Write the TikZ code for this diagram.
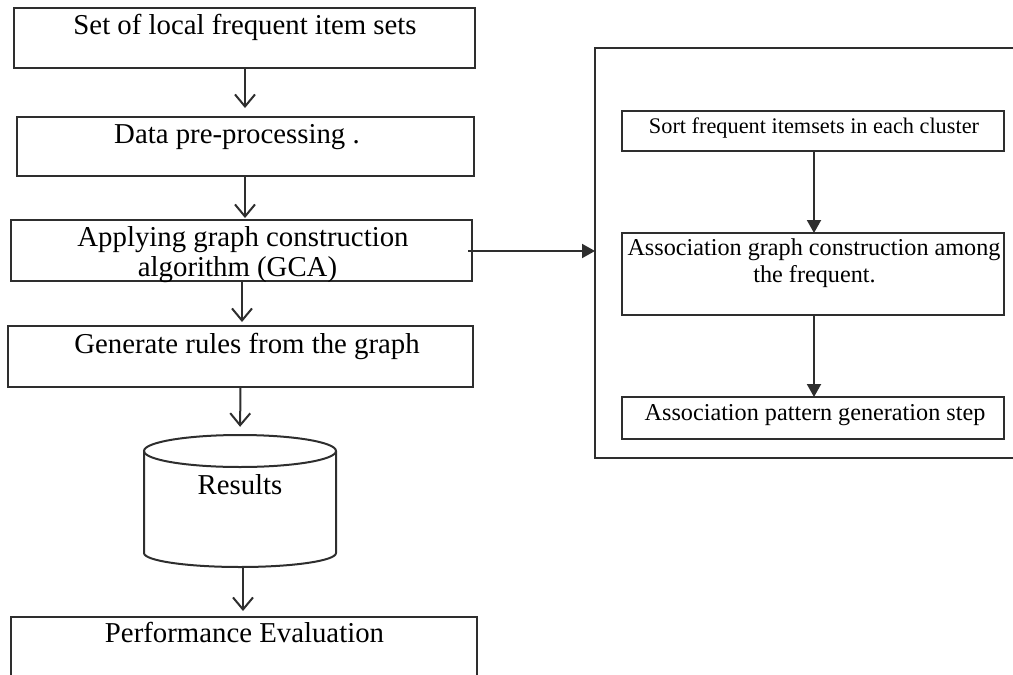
\documentclass[tikz,border=0pt]{standalone}
\usepackage{fontspec}
\setmainfont{Liberation Serif}
\usetikzlibrary{arrows.meta}
\definecolor{ln}{HTML}{2E2E2E}
\begin{document}
\begin{tikzpicture}[x=1pt,y=-1pt,
  box/.style={draw=ln,line width=2pt,inner sep=0pt,outer sep=0pt},
  lab/.style={anchor=base,font=\fontsize{28.8}{30}\selectfont,inner sep=0pt},
  slab/.style={anchor=base,font=\fontsize{24.2}{27}\selectfont,inner sep=0pt},
  varr/.style={draw=ln,line width=2pt,-{Straight Barb[length=12pt,width=20pt,line width=2pt]}},
  farr/.style={draw=ln,line width=2pt,-{Triangle[length=13pt,width=14pt]}}]
\useasboundingbox (0,0) rectangle (1013,675);
\clip (0,0) rectangle (1013,675);
% left column boxes
\node[box,minimum width=461pt,minimum height=60pt] (b1) at (244.5,38) {};
\node[box,minimum width=457pt,minimum height=59pt] (b2) at (245.5,146.5) {};
\node[box,minimum width=461pt,minimum height=61pt] (b3) at (241.5,250.5) {};
\node[box,minimum width=465pt,minimum height=61pt] (b4) at (240.5,356.5) {};
\node[box,minimum width=466pt,minimum height=83pt] (b5) at (244,658.5) {};
% cylinder
\node[inner sep=0pt,minimum width=192pt,minimum height=132pt] (res) at (240,501) {};
\draw[ln,line width=2pt] (240,451) ellipse [x radius=96pt,y radius=16pt];
\draw[ln,line width=2pt] (144,451) -- (144,553) arc[start angle=180,end angle=360,x radius=96pt,y radius=14pt] -- (336,451);
% texts left
\node[lab] (t1) at (245,34) {Set of local frequent item sets};
\node[lab] (t2) at (237,143) {Data pre-processing .};
\node[lab] (t3a) at (243,246) {Applying graph construction};
\node[lab] (t3b) at (237.5,276) {algorithm (GCA)};
\node[lab] (t4) at (247,353) {Generate rules from the graph};
\node[lab] (tr) at (240,494) {Results};
\node[lab] (t5) at (244.5,642) {Performance Evaluation};
% right column
\node[box,minimum width=430pt,minimum height=410pt] (o) at (810,253) {};
\node[box,minimum width=382pt,minimum height=40pt] (s1) at (813,131) {};
\node[box,minimum width=382pt,minimum height=82pt] (s2) at (813,274) {};
\node[box,minimum width=382pt,minimum height=42pt] (s3) at (813,418) {};
\node[slab,font=\fontsize{22.3}{25}\selectfont] (u1) at (814,133) {Sort frequent itemsets in each cluster};
\node[slab] (u2a) at (814,255) {Association graph construction among};
\node[slab] (u2b) at (814.5,282) {the frequent.};
\node[slab] (u3) at (815,420) {Association pattern generation step};
% arrows
\draw[varr,shorten >=9pt] (b1.south -| 245,0) -- (b2.north -| 245,0);
\draw[varr,shorten >=2pt] (b2.south -| 245,0) -- (b3.north -| 245,0);
\draw[varr,shorten >=4pt] (b3.south -| 242,0) -- (b4.north -| 242,0);
\draw[varr,shorten >=8pt] (b4.south -| 240.5,0) -- (res.north);
\draw[varr,shorten >=6pt] (res.south -| 243,0) -- (b5.north -| 243,0);
\draw[farr] ([xshift=-4pt]b3.east |- 0,251) -- (o.west |- 0,251);
\draw[farr] (s1.south -| 814,0) -- (s2.north -| 814,0);
\draw[farr] (s2.south -| 814,0) -- (s3.north -| 814,0);
\end{tikzpicture}
\end{document}
